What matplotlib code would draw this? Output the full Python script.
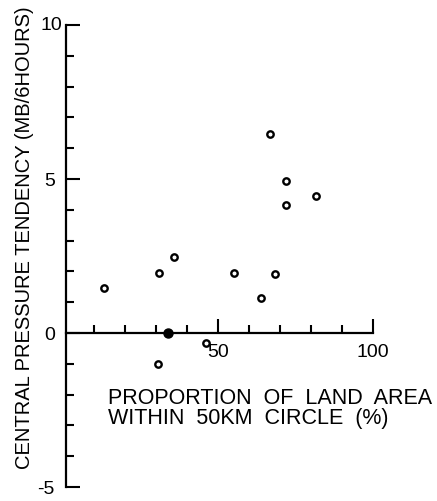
import numpy as np
import matplotlib
matplotlib.use('Agg')
import matplotlib.pyplot as plt

# data (land proportion %, pressure tendency mb/6h)
land_pct = [13.2, 31.0, 35.9, 55.3, 63.8, 68.3, 30.5, 46.0, 66.9, 71.8, 81.5, 71.8]
tendency = [1.47, 1.96, 2.47, 1.95, 1.13, 1.90, -1.0, -0.32, 6.47, 4.94, 4.45, 4.17]
# the one filled point sitting on the axis
land_filled = [34.0]
tend_filled = [0.0]

xmajor = [50, 100]
xmajor_labels = ['50', '100']
xminor = [10, 20, 30, 40, 60, 70, 80, 90]
ymajor = [-5, 0, 5, 10]
ymajor_labels = ['-5', '0', '5', '']   # '10' is drawn tight to the axis below
yminor = [-4, -3, -2, -1, 1, 2, 3, 4, 6, 7, 8, 9]

plt.rcParams['font.family'] = ['Liberation Sans', 'DejaVu Sans']

fig = plt.figure(figsize=(4.37, 5.01), dpi=100)
ax = fig.add_axes([66/437, 14/501, 371/437, 462/501])
ax.set_xlim(1, 120.6)
ax.set_ylim(-5, 10)

ax.plot(land_pct, tendency, 'o', mfc='white', mec='black', ms=4.6, mew=1.7, zorder=3)
ax.plot(land_filled, tend_filled, 'o', color='black', ms=6.5, zorder=3)

# axis styling: left spine, x axis through y=0
for s in ['top', 'right']:
    ax.spines[s].set_visible(False)
ax.spines['bottom'].set_position(('data', 0))
ax.spines['bottom'].set_bounds(1, 100)
ax.spines['left'].set_bounds(-5, 10)
for s in ['bottom', 'left']:
    ax.spines[s].set_linewidth(1.6)

ax.set_xticks(xmajor)
ax.set_xticklabels(xmajor_labels)
ax.set_xticks(xminor, minor=True)
ax.set_yticks(ymajor)
ax.set_yticklabels(ymajor_labels)
ax.set_yticks(yminor, minor=True)

ax.tick_params(which='major', direction='in', length=10, width=1.5, labelsize=14)
ax.tick_params(which='minor', direction='in', length=6, width=1.5)
ax.tick_params(axis='x', which='major', pad=8)
ax.tick_params(axis='y', which='major', pad=8)

ax.annotate('10', xy=(1, 10), xytext=(-3, 0), textcoords='offset points',
            ha='right', va='center', fontsize=14, annotation_clip=False)

fig.text(25/437, 1 - 238/501, 'CENTRAL PRESSURE TENDENCY (MB/6HOURS)',
         rotation=90, ha='center', va='center', fontsize=14.5)
fig.text(108/437, 1 - 388/501, 'PROPORTION  OF  LAND  AREA\nWITHIN  50KM  CIRCLE  (%)',
         ha='left', va='top', fontsize=15.5, linespacing=0.95)

fig.savefig('out.png', dpi=100)
